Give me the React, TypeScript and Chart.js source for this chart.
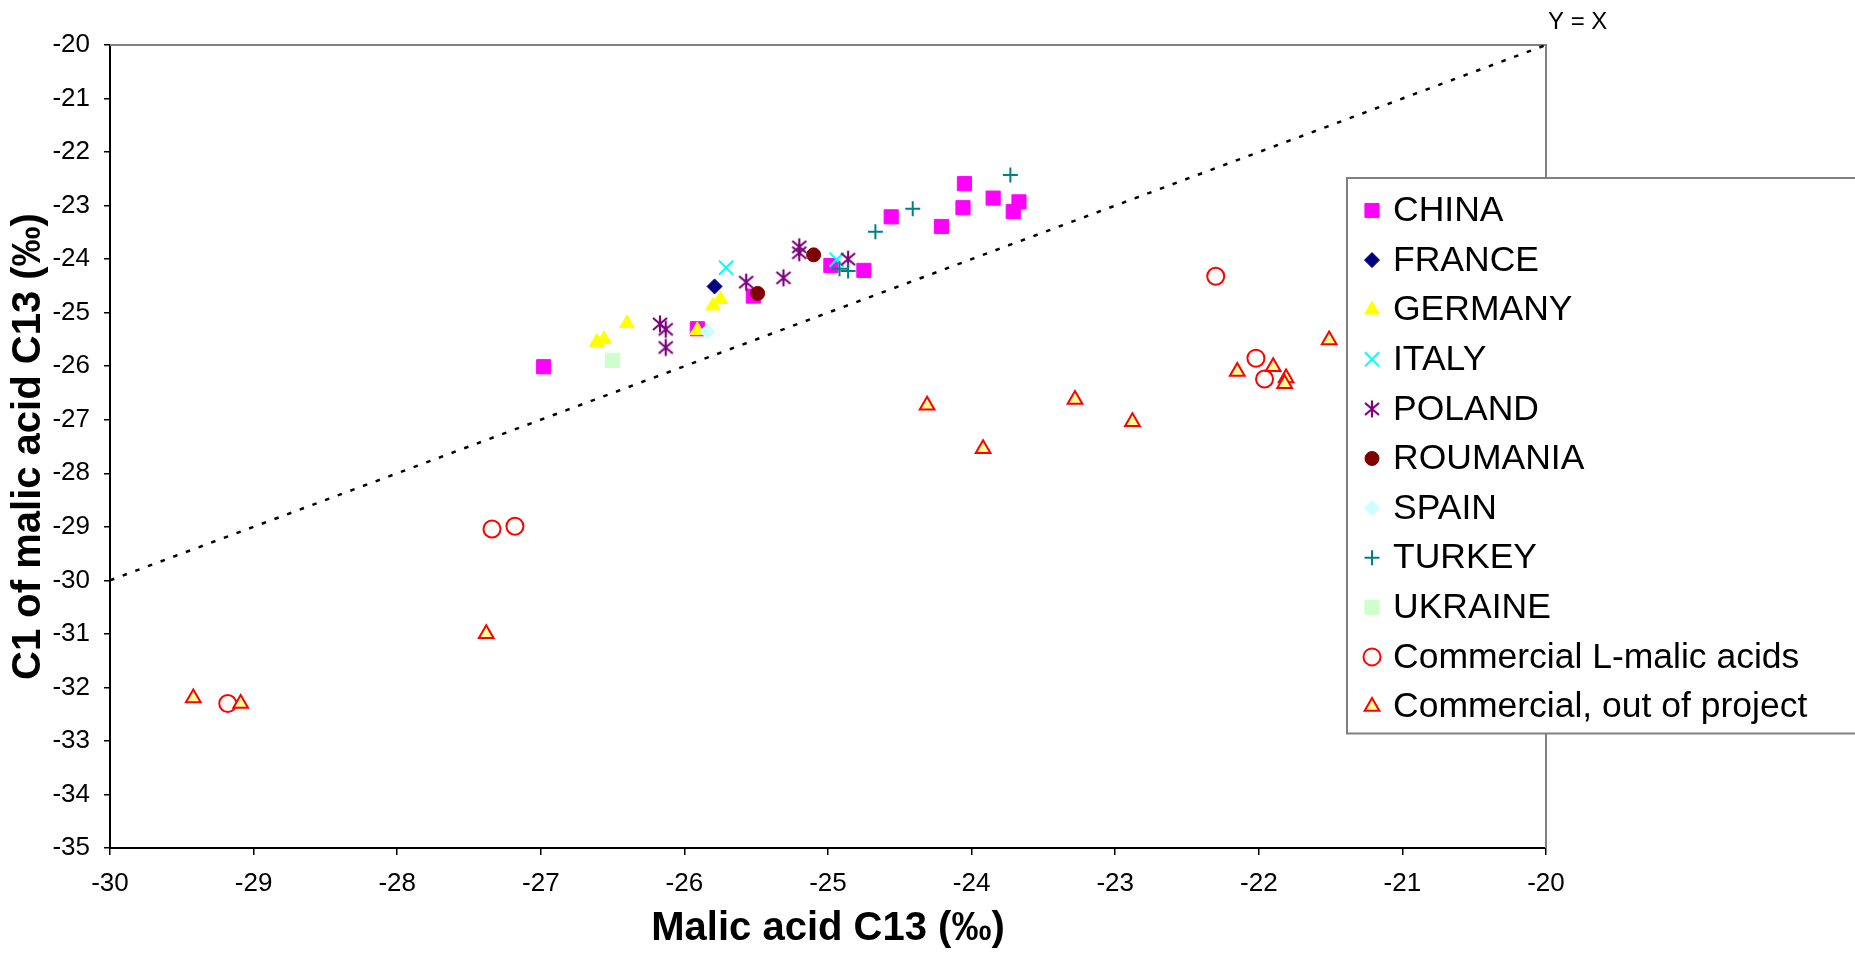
import React, { useEffect, useRef } from "react";
import { Chart, registerables } from "chart.js";
import { drawPoint } from "chart.js/helpers";

Chart.register(...registerables);

// ---- Data (Malic acid C13 ‰ , C1 of malic acid C13 ‰) ----
const CHINA: number[][] = [
  [-24.05, -22.59], [-23.85, -22.86], [-23.67, -22.93], [-23.71, -23.11],
  [-24.06, -23.04], [-24.21, -23.39], [-24.56, -23.21], [-24.98, -24.12],
  [-24.75, -24.21], [-25.52, -24.69], [-25.91, -25.30], [-26.98, -26.01],
];
const FRANCE: number[][] = [[-25.79, -24.51]];
const GERMANY: number[][] = [
  [-25.75, -24.75], [-25.80, -24.87], [-25.91, -25.33], [-26.40, -25.20],
  [-26.56, -25.50], [-26.61, -25.55],
];
const ITALY: number[][] = [[-25.71, -24.16], [-24.94, -24.01]];
const POLAND: number[][] = [
  [-25.20, -23.77], [-25.20, -23.88], [-24.86, -24.00], [-25.31, -24.35],
  [-25.57, -24.43], [-26.17, -25.21], [-26.13, -25.31], [-26.13, -25.65],
];
const ROUMANIA: number[][] = [[-25.10, -23.92], [-25.49, -24.64]];
const SPAIN: number[][] = [[-25.84, -25.35]];
const TURKEY: number[][] = [
  [-23.73, -22.43], [-24.41, -23.06], [-24.67, -23.49], [-24.92, -24.18], [-24.86, -24.22],
];
const UKRAINE: number[][] = [[-26.50, -25.89]];
const COMMERCIAL_L: number[][] = [
  [-29.18, -32.30], [-27.34, -29.04], [-27.18, -28.99], [-22.30, -24.32],
  [-22.02, -25.85], [-21.96, -26.24],
];
const COMMERCIAL_OUT: number[][] = [
  [-29.42, -32.20], [-29.09, -32.30], [-27.38, -31.00], [-24.31, -26.73],
  [-23.92, -27.54], [-23.28, -26.62], [-22.88, -27.04], [-22.15, -26.10],
  [-21.90, -26.01], [-21.81, -26.22], [-21.82, -26.33], [-21.51, -25.51],
];
const IDENTITY_LINE: number[][] = [[-30, -30], [-20, -20]];

const X_MIN = -30, X_MAX = -20;
const Y_MIN = -35, Y_MAX = -20;
const X_TITLE = "Malic acid C13 (‰)";
const Y_TITLE = "C1 of malic acid C13 (‰)";
const LINE_LABEL = "Y = X";

const FONT = "'Liberation Sans', Arial, sans-serif";

function makeAsterisk(color: string): HTMLCanvasElement {
  const c = document.createElement("canvas");
  c.width = 20; c.height = 20;
  const g = c.getContext("2d")!;
  g.strokeStyle = color;
  g.lineWidth = 2.2;
  g.beginPath();
  g.moveTo(10, 1.5); g.lineTo(10, 18.5);
  g.moveTo(3, 4); g.lineTo(17, 16);
  g.moveTo(17, 4); g.lineTo(3, 16);
  g.stroke();
  return c;
}

export default function App() {
  const ref = useRef<HTMLCanvasElement | null>(null);

  useEffect(() => {
    document.body.style.margin = "0";
    document.body.style.overflow = "hidden";
    const canvas = ref.current!;
    const asterisk = makeAsterisk("#800080");

    const series = [
      { label: "CHINA", data: CHINA, style: "rect", r: 10, bg: "#FF00FF", bc: "#FF00FF", bw: 1 },
      { label: "FRANCE", data: FRANCE, style: "rectRot", r: 7.5, bg: "#000080", bc: "#000080", bw: 1 },
      { label: "GERMANY", data: GERMANY, style: "triangle", r: 8.5, bg: "#FFFF00", bc: "#FFFF00", bw: 1 },
      { label: "ITALY", data: ITALY, style: "crossRot", r: 10, bg: "#00FFFF", bc: "#00FFFF", bw: 2 },
      { label: "POLAND", data: POLAND, style: asterisk as any, r: 10, bg: "#800080", bc: "#800080", bw: 2 },
      { label: "ROUMANIA", data: ROUMANIA, style: "circle", r: 7, bg: "#800000", bc: "#800000", bw: 1 },
      { label: "SPAIN", data: SPAIN, style: "rectRot", r: 7.5, bg: "#CCFFFF", bc: "#CCFFFF", bw: 1 },
      { label: "TURKEY", data: TURKEY, style: "cross", r: 7.5, bg: "#008080", bc: "#008080", bw: 2 },
      { label: "UKRAINE", data: UKRAINE, style: "rect", r: 10, bg: "#CCFFCC", bc: "#CCFFCC", bw: 1 },
      { label: "Commercial L-malic acids", data: COMMERCIAL_L, style: "circle", r: 8.5, bg: "rgba(255,255,255,0)", bc: "#FF0000", bw: 2 },
      { label: "Commercial, out of project", data: COMMERCIAL_OUT, style: "triangle", r: 8.5, bg: "#FFFF99", bc: "#FF0000", bw: 2 },
    ];
    const N = series.length;

    const datasets: any[] = series.map((s, i) => ({
      label: s.label,
      data: s.data.map(([x, y]) => ({ x, y })),
      pointStyle: s.style,
      pointRadius: s.r,
      pointHoverRadius: s.r,
      pointBackgroundColor: s.bg,
      pointBorderColor: s.bc,
      pointBorderWidth: s.bw,
      showLine: false,
      order: N - i,
    }));
    datasets.push({
      label: LINE_LABEL,
      data: IDENTITY_LINE.map(([x, y]) => ({ x, y })),
      showLine: true,
      borderColor: "#000000",
      borderWidth: 2.5,
      borderDash: [4.5, 9],
      pointRadius: 0,
      order: N + 5,
    });

    const framePlugin = {
      id: "frame",
      beforeDatasetsDraw(chart: any) {
        const { ctx, chartArea: a } = chart;
        ctx.save();
        ctx.strokeStyle = "#808080";
        ctx.lineWidth = 2;
        ctx.beginPath();
        ctx.moveTo(a.left, a.top);
        ctx.lineTo(a.right, a.top);
        ctx.lineTo(a.right, a.bottom);
        ctx.stroke();
        ctx.restore();
      },
      afterDraw(chart: any) {
        const { ctx, chartArea: a } = chart;
        const xs = chart.scales.x, ys = chart.scales.y;
        // Y = X label
        ctx.save();
        ctx.fillStyle = "#000";
        ctx.font = `24px ${FONT}`;
        ctx.textAlign = "left";
        ctx.textBaseline = "middle";
        ctx.fillText(LINE_LABEL, xs.getPixelForValue(X_MAX) + 2, ys.getPixelForValue(Y_MAX) - 23);
        ctx.restore();

        // Legend box
        const left = a.right - 199;
        const top = a.top + 133;
        const rowH = 49.6;
        const first = 32.5;
        const height = first + rowH * (series.length - 1) + 27;
        ctx.save();
        ctx.fillStyle = "#FFFFFF";
        ctx.fillRect(left, top, 800, height);
        ctx.strokeStyle = "#808080";
        ctx.lineWidth = 2;
        ctx.strokeRect(left, top, 800, height);
        ctx.font = `35.5px ${FONT}`;
        ctx.textBaseline = "middle";
        ctx.textAlign = "left";
        series.forEach((s, i) => {
          const y = top + first + i * rowH;
          const mx = left + 25;
          ctx.save();
          ctx.fillStyle = s.bg;
          ctx.strokeStyle = s.bc;
          ctx.lineWidth = s.bw;
          drawPoint(ctx, { pointStyle: s.style, radius: s.r, borderWidth: s.bw, rotation: 0 } as any, mx, y);
          ctx.restore();
          ctx.fillStyle = "#000";
          ctx.fillText(s.label, left + 46, y + 1);
        });
        ctx.restore();
      },
    };

    const chart = new Chart(canvas, {
      type: "scatter",
      data: { datasets },
      plugins: [framePlugin],
      options: {
        responsive: false,
        animation: false,
        devicePixelRatio: 1,
        layout: { padding: { top: 45, right: 309, left: 0, bottom: 0 } },
        plugins: {
          legend: { display: false },
          tooltip: { enabled: false },
        },
        scales: {
          x: {
            type: "linear",
            min: X_MIN,
            max: X_MAX,
            afterFit: (s: any) => { s.height = 105; },
            ticks: {
              stepSize: 1,
              autoSkip: false,
              maxRotation: 0,
              padding: 13,
              color: "#000",
              font: { family: FONT, size: 26 },
            },
            grid: { display: true, drawOnChartArea: false, drawTicks: true, tickLength: 7, color: "#000", lineWidth: 1.5 },
            border: { display: true, color: "#000", width: 2 },
            title: {
              display: true,
              text: X_TITLE,
              color: "#000",
              font: { family: FONT, size: 40, weight: "bold" },
              padding: { top: 0, bottom: 0 },
            },
          },
          y: {
            type: "linear",
            min: Y_MIN,
            max: Y_MAX,
            afterFit: (s: any) => { s.width = 110; },
            ticks: {
              stepSize: 1,
              autoSkip: false,
              padding: 14,
              color: "#000",
              font: { family: FONT, size: 26 },
            },
            grid: { display: true, drawOnChartArea: false, drawTicks: true, tickLength: 6, color: "#000", lineWidth: 1.5 },
            border: { display: true, color: "#000", width: 2 },
            title: {
              display: true,
              text: Y_TITLE,
              color: "#000",
              font: { family: FONT, size: 40, weight: "bold" },
              padding: { top: 5, bottom: 0 },
            },
          },
        },
      } as any,
    });
    return () => chart.destroy();
  }, []);

  return (
    <canvas
      ref={ref}
      width={1855}
      height={953}
      style={{ display: "block", width: "1855px", height: "953px" }}
    />
  );
}
